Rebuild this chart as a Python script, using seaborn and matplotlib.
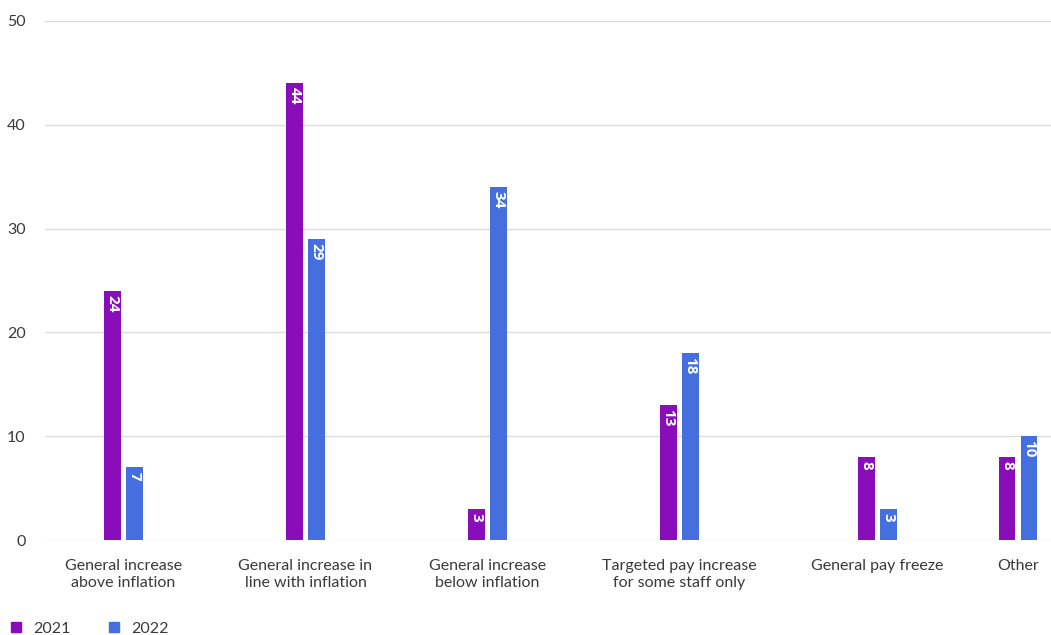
import matplotlib
matplotlib.use("Agg")
import matplotlib.pyplot as plt
import seaborn as sns
import pandas as pd

# Survey responses (%) by pay award type
categories = [
    "General increase\nabove inflation",
    "General increase in\nline with inflation",
    "General increase\nbelow inflation",
    "Targeted pay increase\nfor some staff only",
    "General pay freeze",
    "Other",
]
values_2021 = [24, 44, 3, 13, 8, 8]
values_2022 = [7, 29, 34, 18, 3, 10]
years = ["2021", "2022"]

# Horizontal placement of each group (axis units)
group_pos = [0.785, 2.605, 4.425, 6.345, 8.325, 9.73]
colors = {"2021": "#8A0DBA", "2022": "#456FDE"}

df = pd.DataFrame({
    "pos": group_pos * 2,
    "value": values_2021 + values_2022,
    "year": [years[0]] * len(categories) + [years[1]] * len(categories),
})

sns.set_theme(style="white")
plt.rcParams["font.family"] = ["Lato", "DejaVu Sans"]

fig = plt.figure(figsize=(10.51, 6.35), dpi=100)
ax = fig.add_axes([45 / 1051, 95 / 635, 1 - 45 / 1051, (540 - 21) / 635])

min_step = min(b - a for a, b in zip(group_pos, group_pos[1:]))
sns.barplot(
    data=df, x="pos", y="value", hue="year", palette=colors,
    native_scale=True, dodge=True, width=0.44 / min_step, gap=0.23,
    saturation=1, legend=False, linewidth=0, ax=ax,
)

ax.set_xlim(0, 10.06)
ax.set_ylim(0, 50)
ax.set_yticks(range(0, 51, 10))
ax.yaxis.grid(True, color="#DDDDDD", linewidth=1)
ax.set_axisbelow(True)
for s in ax.spines.values():
    s.set_visible(False)

ax.set_xticks(group_pos)
ax.set_xticklabels(categories, fontsize=11.5, color="#3A3A3A", linespacing=1.2)
ax.tick_params(axis="x", length=0, pad=14)
ax.tick_params(axis="y", length=0, pad=14, labelsize=11.5, labelcolor="#3A3A3A")
ax.set_xlabel("")
ax.set_ylabel("")

# Value labels inside the top of each bar
for container in ax.containers:
    for bar in container:
        h = bar.get_height()
        ax.annotate(f"{h:.0f}", (bar.get_x() + bar.get_width() / 2, h),
                    xytext=(0, -3), textcoords="offset points",
                    rotation=270, ha="center", va="top",
                    color="white", fontsize=11, fontweight="bold",
                    family=["Open Sans", "DejaVu Sans"])

# Legend along the bottom edge
handles = [plt.Rectangle((0, 0), 1, 1, color=colors[y]) for y in years]
fig.legend(handles, years, loc="lower left", bbox_to_anchor=(-0.003, -0.024),
           ncol=2, frameon=False, fontsize=11.5, handlelength=0.6,
           handleheight=0.6, handletextpad=0.8, columnspacing=2.4,
           labelcolor="#3A3A3A")

fig.savefig("out.png", dpi=100)
